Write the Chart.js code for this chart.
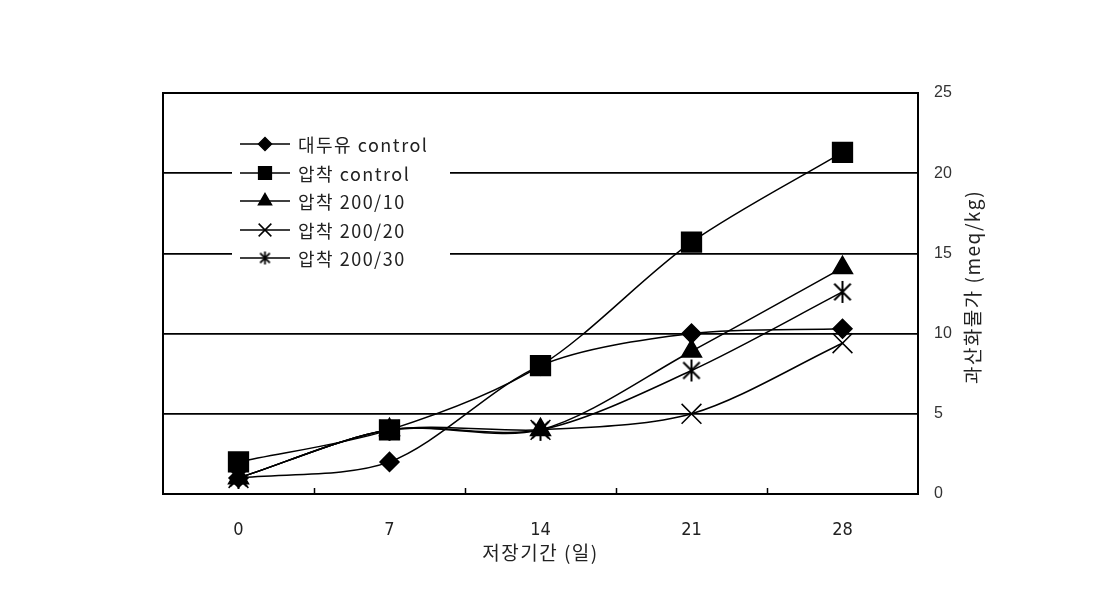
<!DOCTYPE html>
<html>
<head>
<meta charset="utf-8">
<script src="https://cdn.jsdelivr.net/npm/chart.js@4.4.0/dist/chart.umd.min.js"></script>
<style>
  html, body { margin: 0; padding: 0; background: #fff; }
</style>
</head>
<body>
<canvas id="pvChart" width="1117" height="601"></canvas>
<script>
// storage days (x categories)
const DAYS = ['0', '7', '14', '21', '28'];
const SERIES_NAMES = ['대두유 control', '압착 control', '압착 200/10', '압착 200/20', '압착 200/30'];

// peroxide value, meq/kg
const SOY_CONTROL   = [1.0, 2.0, 8.0, 10.0, 10.3];
const PRESS_CONTROL = [2.0, 4.0, 8.0, 15.7, 21.3];
const PRESS_200_10  = [1.0, 4.0, 4.0, 8.9, 14.1];
const PRESS_200_20  = [1.0, 4.0, 4.0, 5.0, 9.4];
const PRESS_200_30  = [1.0, 4.0, 4.0, 7.7, 12.6];

const Y_MIN = 0, Y_MAX = 25, Y_STEP = 5;

const X_TITLE = '저장기간 (일)';
const Y_TITLE = '과산화물가 (meq/kg)';

const KO_FONT = '"Noto Sans CJK KR", "Noto Sans", sans-serif';

// asterisk marker: vertical bar + X
function makeStar(size, lw) {
    const c = document.createElement('canvas');
    c.width = size; c.height = size;
    const g = c.getContext('2d');
    const m = size / 2, r = size / 2 - 1;
    g.strokeStyle = '#000';
    g.lineWidth = lw;
    g.beginPath();
    g.moveTo(m, m - r); g.lineTo(m, m + r);
    const d = r * 0.75;
    g.moveTo(m - d, m - d); g.lineTo(m + d, m + d);
    g.moveTo(m + d, m - d); g.lineTo(m - d, m + d);
    g.stroke();
    return c;
}
const STAR_BIG = makeStar(24, 2);
const STAR_SMALL = makeStar(15, 1.8);

const MARKERS = [
    { style: 'rectRot',  radius: 9.5, legendRadius: 6.5, order: 3 },
    { style: 'rect',     radius: 14,  legendRadius: 9,   order: 0 },
    { style: 'triangle', radius: 11.5, legendRadius: 7.5, order: 1 },
    { style: 'crossRot', radius: 14,  legendRadius: 9,   order: 4 },
    { style: STAR_BIG,   radius: 12,  legendRadius: 7,   order: 2, legendStyle: STAR_SMALL }
];
const VALUES = [SOY_CONTROL, PRESS_CONTROL, PRESS_200_10, PRESS_200_20, PRESS_200_30];

const datasets = VALUES.map(function (vals, i) {
    const mk = MARKERS[i];
    return {
        label: SERIES_NAMES[i],
        data: vals,
        borderColor: '#000',
        backgroundColor: '#000',
        borderWidth: 1.5,
        tension: 0.3,
        pointStyle: mk.style,
        pointRadius: mk.radius,
        pointBorderWidth: 1.5,
        pointBackgroundColor: '#000',
        pointBorderColor: '#000',
        order: mk.order
    };
});

// frame, inner x ticks, titles, boxed legend
const extrasPlugin = {
    id: 'extras',
    afterDraw: function (chart) {
        const ctx = chart.ctx;
        const a = chart.chartArea;
        const xs = chart.scales.x;
        ctx.save();

        ctx.strokeStyle = '#000';
        ctx.lineWidth = 2;
        ctx.strokeRect(a.left, a.top, a.right - a.left, a.bottom - a.top);

        ctx.lineWidth = 1.5;
        for (let i = 0; i < DAYS.length - 1; i++) {
            const px = Math.round((xs.getPixelForValue(i) + xs.getPixelForValue(i + 1)) / 2) + 0.5;
            ctx.beginPath();
            ctx.moveTo(px, a.bottom);
            ctx.lineTo(px, a.bottom - 6);
            ctx.stroke();
        }

        ctx.fillStyle = '#222';
        ctx.textAlign = 'center';
        ctx.textBaseline = 'middle';
        ctx.letterSpacing = '1.5px';

        // x title
        ctx.font = '19px ' + KO_FONT;
        ctx.fillText(X_TITLE, (a.left + a.right) / 2, 553);

        // y title, reads bottom to top
        ctx.save();
        ctx.translate(973, 287);
        ctx.rotate(-Math.PI / 2);
        ctx.font = '19px ' + KO_FONT;
        ctx.fillText(Y_TITLE, 0, 0);
        ctx.restore();

        // legend box
        const box = { x: 232, y: 128, w: 218, h: 146 };
        ctx.fillStyle = '#fff';
        ctx.fillRect(box.x, box.y, box.w, box.h);
        const rowY = [144, 173, 201, 230, 258];
        ctx.font = '18px ' + KO_FONT;
        ctx.textAlign = 'left';
        for (let i = 0; i < SERIES_NAMES.length; i++) {
            const y = rowY[i];
            ctx.strokeStyle = '#000';
            ctx.lineWidth = 1.5;
            ctx.beginPath();
            ctx.moveTo(240, y);
            ctx.lineTo(290, y);
            ctx.stroke();
            ctx.fillStyle = '#000';
            Chart.helpers.drawPoint(ctx, {
                pointStyle: MARKERS[i].legendStyle || MARKERS[i].style,
                radius: MARKERS[i].legendRadius,
                rotation: 0,
                borderWidth: 1.5
            }, 265, y);
            ctx.fillStyle = '#222';
            ctx.fillText(SERIES_NAMES[i], 298, y + 1);
        }
        ctx.restore();
    }
};

new Chart(document.getElementById('pvChart'), {
    type: 'line',
    data: { labels: DAYS, datasets: datasets },
    options: {
        responsive: false,
        animation: false,
        events: [],
        layout: { padding: { left: 163, right: 119, top: 93, bottom: 0 } },
        plugins: {
            legend: { display: false },
            tooltip: { enabled: false }
        },
        scales: {
            x: {
                offset: true,
                grid: { display: false },
                border: { display: false },
                ticks: {
                    padding: 18,
                    color: '#222',
                    font: { family: '"Liberation Sans Narrow", "DejaVu Sans Condensed", sans-serif', size: 18 }
                },
                afterFit: function (s) { s.height = 107; }
            },
            y: {
                position: 'right',
                min: Y_MIN,
                max: Y_MAX,
                grid: { color: '#000', lineWidth: 1.8, drawTicks: false },
                border: { display: false },
                ticks: {
                    stepSize: Y_STEP,
                    padding: 16,
                    color: '#333',
                    font: { family: '"Liberation Sans", sans-serif', size: 16 }
                },
                afterFit: function (s) { s.width = 80; }
            }
        }
    },
    plugins: [extrasPlugin]
});
</script>
</body>
</html>
